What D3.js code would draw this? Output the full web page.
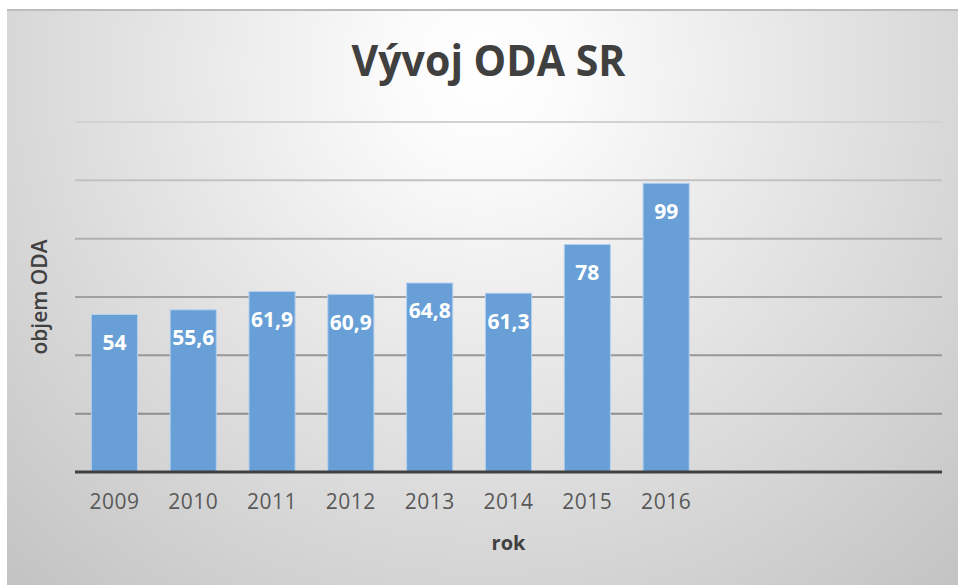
<!DOCTYPE html>
<html>
<head>
<meta charset="utf-8">
<script src="https://cdn.jsdelivr.net/npm/d3@7"></script>
<style>
  html, body { margin: 0; padding: 0; background: #fff; }
  svg { display: block; font-family: 'Open Sans', sans-serif; }
</style>
</head>
<body>
<svg id="chart" width="958" height="585"></svg>
<script>
// data
const years = ['2009', '2010', '2011', '2012', '2013', '2014', '2015', '2016'];
const values = [54, 55.6, 61.9, 60.9, 64.8, 61.3, 78, 99];
const gridTicks = [20, 40, 60, 80, 100, 120];
const slotCount = 11; // the plot keeps three empty slots on the right

const svg = d3.select('#chart');
const W = 958;
const H = 585;
const plot = { left: 75, right: 942, top: 122, bottom: 472 };

const defs = svg.append('defs');
const bg = defs.append('radialGradient')
  .attr('id', 'bg')
  .attr('gradientUnits', 'userSpaceOnUse')
  .attr('cx', 485).attr('cy', 70).attr('r', 720);
bg.append('stop').attr('offset', 0).attr('stop-color', '#ffffff');
bg.append('stop').attr('offset', 0.12).attr('stop-color', '#fbfbfb');
bg.append('stop').attr('offset', 1).attr('stop-color', '#c1c1c1');

const gridGrad = defs.append('linearGradient')
  .attr('id', 'grid')
  .attr('gradientUnits', 'userSpaceOnUse')
  .attr('x1', 0).attr('y1', plot.top).attr('x2', 0).attr('y2', plot.bottom);
gridGrad.append('stop').attr('offset', 0).attr('stop-color', '#d2d2d2');
gridGrad.append('stop').attr('offset', 0.5).attr('stop-color', '#a0a0a0');
gridGrad.append('stop').attr('offset', 1).attr('stop-color', '#848484');

// chart area
svg.append('rect')
  .attr('x', 7).attr('y', 9)
  .attr('width', W - 7).attr('height', H - 9)
  .attr('fill', 'url(#bg)');
svg.append('line')
  .attr('x1', 7).attr('x2', W)
  .attr('y1', 10).attr('y2', 10)
  .attr('stroke', '#bcbcbc').attr('stroke-width', 2);

const x = d3.scaleBand()
  .domain(d3.range(slotCount))
  .range([plot.left, plot.right])
  .paddingInner(0.415)
  .paddingOuter(0.2075);

const y = d3.scaleLinear()
  .domain([0, 120])
  .range([plot.bottom, plot.top]);

// gridlines
svg.append('g')
  .selectAll('line')
  .data(gridTicks)
  .join('line')
  .attr('x1', plot.left).attr('x2', plot.right)
  .attr('y1', d => y(d)).attr('y2', d => y(d))
  .attr('stroke', 'url(#grid)')
  .attr('stroke-width', 2);

// bars
const bars = svg.append('g')
  .selectAll('g')
  .data(values)
  .join('g');

bars.append('rect')
  .attr('x', (d, i) => x(i))
  .attr('y', d => y(d))
  .attr('width', x.bandwidth())
  .attr('height', d => y(0) - y(d))
  .attr('fill', '#679fd6')
  .attr('stroke', '#b3d0ee')
  .attr('stroke-width', 1);

bars.append('text')
  .attr('x', (d, i) => x(i) + x.bandwidth() / 2)
  .attr('y', d => y(d) + 28)
  .attr('dy', '0.35em')
  .attr('text-anchor', 'middle')
  .attr('fill', '#ffffff')
  .attr('font-size', 21)
  .attr('font-weight', 700)
  .text(d => String(d).replace('.', ','));

// x axis
const xAxis = d3.axisBottom(x)
  .tickSize(0)
  .tickPadding(22)
  .tickFormat(i => years[i] || '');

const xg = svg.append('g')
  .attr('transform', `translate(0,${plot.bottom})`)
  .call(xAxis);
xg.select('.domain').remove();
xg.selectAll('text')
  .attr('font-family', "'Open Sans', sans-serif")
  .attr('font-size', 21)
  .attr('letter-spacing', 0.5)
  .attr('fill', '#595959');

svg.append('line')
  .attr('x1', plot.left).attr('x2', plot.right)
  .attr('y1', y(0)).attr('y2', y(0))
  .attr('stroke', '#404040')
  .attr('stroke-width', 3);

// titles
svg.append('text')
  .attr('x', (plot.left + plot.right) / 2 - 20)
  .attr('y', 76)
  .attr('text-anchor', 'middle')
  .attr('font-size', 43)
  .attr('font-weight', 700)
  .attr('fill', '#404040')
  .attr('textLength', 274)
  .attr('lengthAdjust', 'spacingAndGlyphs')
  .text('Vývoj ODA SR');

svg.append('text')
  .attr('x', (plot.left + plot.right) / 2)
  .attr('y', 543)
  .attr('dy', '0.35em')
  .attr('text-anchor', 'middle')
  .attr('font-size', 20)
  .attr('font-weight', 700)
  .attr('fill', '#404040')
  .text('rok');

svg.append('text')
  .attr('transform', `translate(40,${(plot.top + plot.bottom) / 2}) rotate(-90)`)
  .attr('dy', '0.35em')
  .attr('text-anchor', 'middle')
  .attr('font-size', 21)
  .attr('font-weight', 600)
  .attr('fill', '#404040')
  .text('objem ODA');
</script>
</body>
</html>
